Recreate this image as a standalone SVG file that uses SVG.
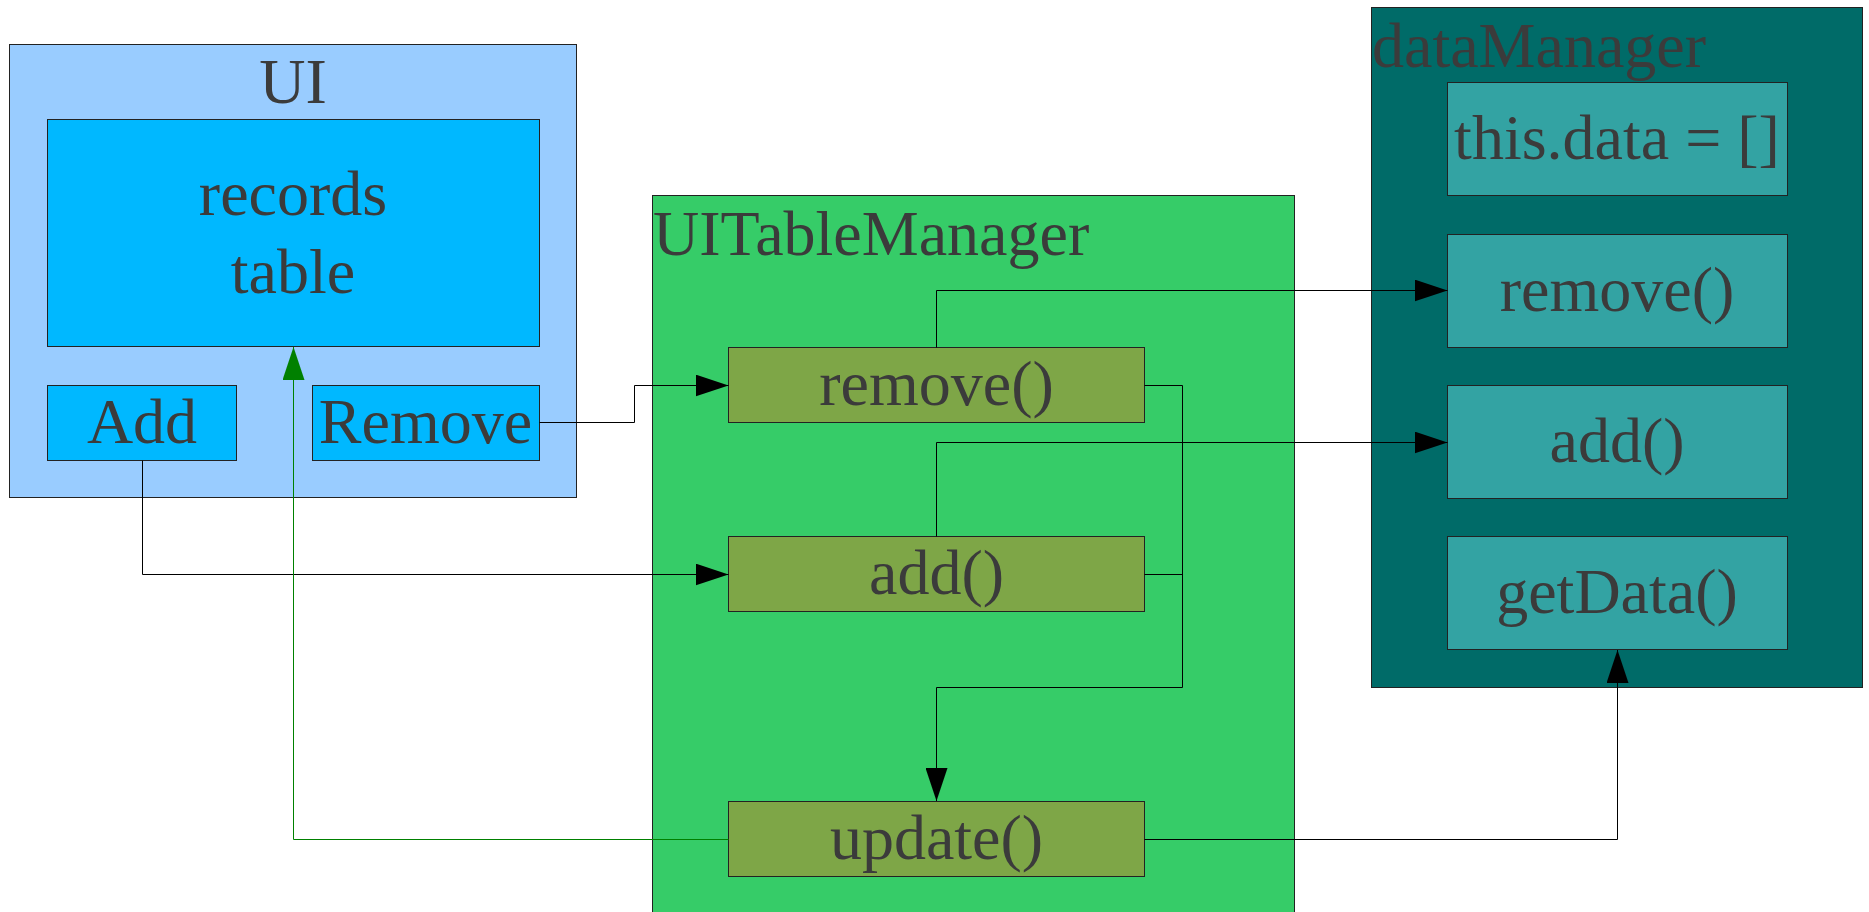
<svg xmlns="http://www.w3.org/2000/svg" width="1869" height="912" viewBox="0 0 1869 912">
<style>
text{font-family:"Liberation Serif","Times New Roman",serif;font-size:64px;fill:#3b3b3b}
.c{text-anchor:middle}
.box{stroke:#222;stroke-width:1}
.ui{fill:#99ccff}
.uiin{fill:#00b8ff}
.tm{fill:#36cc68}
.meth{fill:#7ea647}
.dm{fill:#006b68}
.dmin{fill:#33a3a3}
.ln{fill:none;stroke:#000;stroke-width:1}
.gln{fill:none;stroke:#008000;stroke-width:1}
</style>
<defs>
<marker id="ah" markerUnits="userSpaceOnUse" markerWidth="34" markerHeight="22" refX="33" refY="11" orient="auto">
<path d="M0,0 L33,11 L0,22 z" fill="#000"/>
</marker>
<marker id="gah" markerUnits="userSpaceOnUse" markerWidth="34" markerHeight="22" refX="33" refY="11" orient="auto">
<path d="M0,0 L33,11 L0,22 z" fill="#008000"/>
</marker>
</defs>
<rect width="1869" height="912" fill="#fff"/>

<g id="UI">
<rect class="box ui" x="9.5" y="44.5" width="567" height="453"/>
<text class="c" x="293" y="103">UI</text>
</g>
<g id="recordsTable">
<rect class="box uiin" x="47.5" y="119.5" width="492" height="227"/>
<text class="c" x="293" y="215">records</text>
<text class="c" x="293" y="293">table</text>
</g>
<g id="AddBtn">
<rect class="box uiin" x="47.5" y="385.5" width="189" height="75"/>
<text class="c" x="142" y="443">Add</text>
</g>
<g id="RemoveBtn">
<rect class="box uiin" x="312.5" y="385.5" width="227" height="75"/>
<text class="c" x="425.5" y="443">Remove</text>
</g>

<g id="UITableManager">
<rect class="box tm" x="652.5" y="195.5" width="642" height="730"/>
<text x="653" y="255">UITableManager</text>
</g>
<g id="tmRemove">
<rect class="box meth" x="728.5" y="347.5" width="416" height="75"/>
<text class="c" x="936.5" y="405">remove()</text>
</g>
<g id="tmAdd">
<rect class="box meth" x="728.5" y="536.5" width="416" height="75"/>
<text class="c" x="936.5" y="594">add()</text>
</g>
<g id="tmUpdate">
<rect class="box meth" x="728.5" y="801.5" width="416" height="75"/>
<text class="c" x="936.5" y="859">update()</text>
</g>

<g id="dataManager">
<rect class="box dm" x="1371.5" y="7.5" width="491" height="680"/>
<text x="1372" y="67">dataManager</text>
</g>
<g id="dmData">
<rect class="box dmin" x="1447.5" y="82.5" width="340" height="113"/>
<text class="c" x="1617" y="159">this.data = []</text>
</g>
<g id="dmRemove">
<rect class="box dmin" x="1447.5" y="234.5" width="340" height="113"/>
<text class="c" x="1617" y="311">remove()</text>
</g>
<g id="dmAdd">
<rect class="box dmin" x="1447.5" y="385.5" width="340" height="113"/>
<text class="c" x="1617" y="462">add()</text>
</g>
<g id="dmGetData">
<rect class="box dmin" x="1447.5" y="536.5" width="340" height="113"/>
<text class="c" x="1617" y="613">getData()</text>
</g>

<g id="connectors">
<path class="ln" d="M539.5,422.5 H634.5 V385.5 H728.5" marker-end="url(#ah)"/>
<path class="ln" d="M142.5,460.5 V574.5 H728.5" marker-end="url(#ah)"/>
<path class="ln" d="M936.5,347.5 V290.5 H1447.5" marker-end="url(#ah)"/>
<path class="ln" d="M936.5,536.5 V442.5 H1447.5" marker-end="url(#ah)"/>
<path class="ln" d="M1144.5,385.5 H1182.5 V687.5 H936.5 V801" marker-end="url(#ah)"/>
<path class="ln" d="M1144.5,574.5 H1182.5"/>
<path class="gln" d="M728.5,839.5 H293.5 V347" marker-end="url(#gah)"/>
<path class="ln" d="M1144.5,839.5 H1617.5 V650" marker-end="url(#ah)"/>
</g>
</svg>
